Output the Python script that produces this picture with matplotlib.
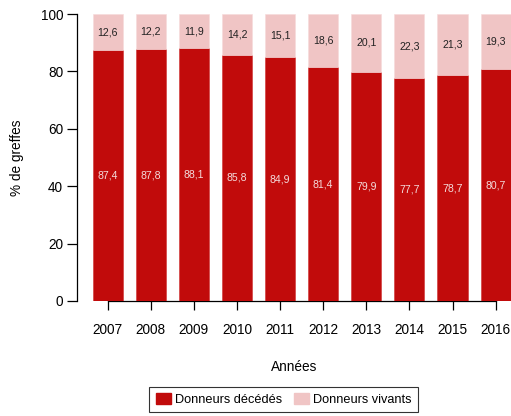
import numpy as np
import matplotlib
matplotlib.use('Agg')
from matplotlib import pyplot as plt
from matplotlib.patches import Patch

plt.rcParams['font.family'] = ['Liberation Sans', 'DejaVu Sans']

# données
annees = ['2007', '2008', '2009', '2010', '2011', '2012', '2013', '2014', '2015', '2016']
decedes = [87.4, 87.8, 88.1, 85.8, 84.9, 81.4, 79.9, 77.7, 78.7, 80.7]
vivants = [12.6, 12.2, 11.9, 14.2, 15.1, 18.6, 20.1, 22.3, 21.3, 19.3]

rouge = '#C10B0B'
rose = '#F0C5C5'

fig = plt.figure(figsize=(5.11, 4.16), dpi=100)
ax = fig.add_axes([77 / 511, 115 / 416, 434 / 511, 287 / 416])

x = np.arange(len(annees))
ax.bar(x, decedes, width=0.7, color=rouge, edgecolor='#D03030', linewidth=0.4)
ax.bar(x, vivants, width=0.7, bottom=decedes, color=rose, edgecolor='#F6DADA', linewidth=0.4)

# étiquettes des valeurs
for i in range(len(annees)):
    ax.text(x[i], decedes[i] / 2, str(decedes[i]).replace('.', ','),
            ha='center', va='center', fontsize=7.6, color='#F4DCDC')
    ax.text(x[i], decedes[i] + vivants[i] / 2, str(vivants[i]).replace('.', ','),
            ha='center', va='center', fontsize=7.6, color='#222222')

ax.set_xlim(-0.712, 9.357)
ax.set_ylim(0, 100)

# axes style R
for s in ['top', 'right']:
    ax.spines[s].set_visible(False)
ax.spines['left'].set_bounds(0, 100)
ax.spines['bottom'].set_bounds(0, 9)
ax.spines['left'].set_linewidth(0.9)
ax.spines['bottom'].set_linewidth(0.9)
ax.spines['bottom'].set_zorder(0.5)

ax.set_yticks([0, 20, 40, 60, 80, 100])
ax.set_xticks(x)
ax.set_xticklabels(annees)
ax.tick_params(axis='y', length=7, width=0.9, pad=3, labelsize=9.8)
ax.tick_params(axis='x', length=6.5, width=0.9, pad=9, labelsize=9.8)

ax.set_ylabel('% de greffes', fontsize=9.8, labelpad=12)
ax.set_xlabel('Années', fontsize=9.8, labelpad=17)

handles = [Patch(facecolor=rouge, edgecolor=rouge), Patch(facecolor=rose, edgecolor=rose)]
leg = fig.legend(handles, ['Donneurs décédés', 'Donneurs vivants'],
                 loc='upper center', bbox_to_anchor=(283.5 / 511, 29 / 416),
                 ncol=2, fontsize=9.2, frameon=True, fancybox=False,
                 handlelength=1.2, handleheight=0.9, handletextpad=0.3,
                 columnspacing=0.9, borderpad=0.5, borderaxespad=0)
leg.get_frame().set_edgecolor('black')
leg.get_frame().set_linewidth(0.8)

plt.savefig('out.png', dpi=100)
